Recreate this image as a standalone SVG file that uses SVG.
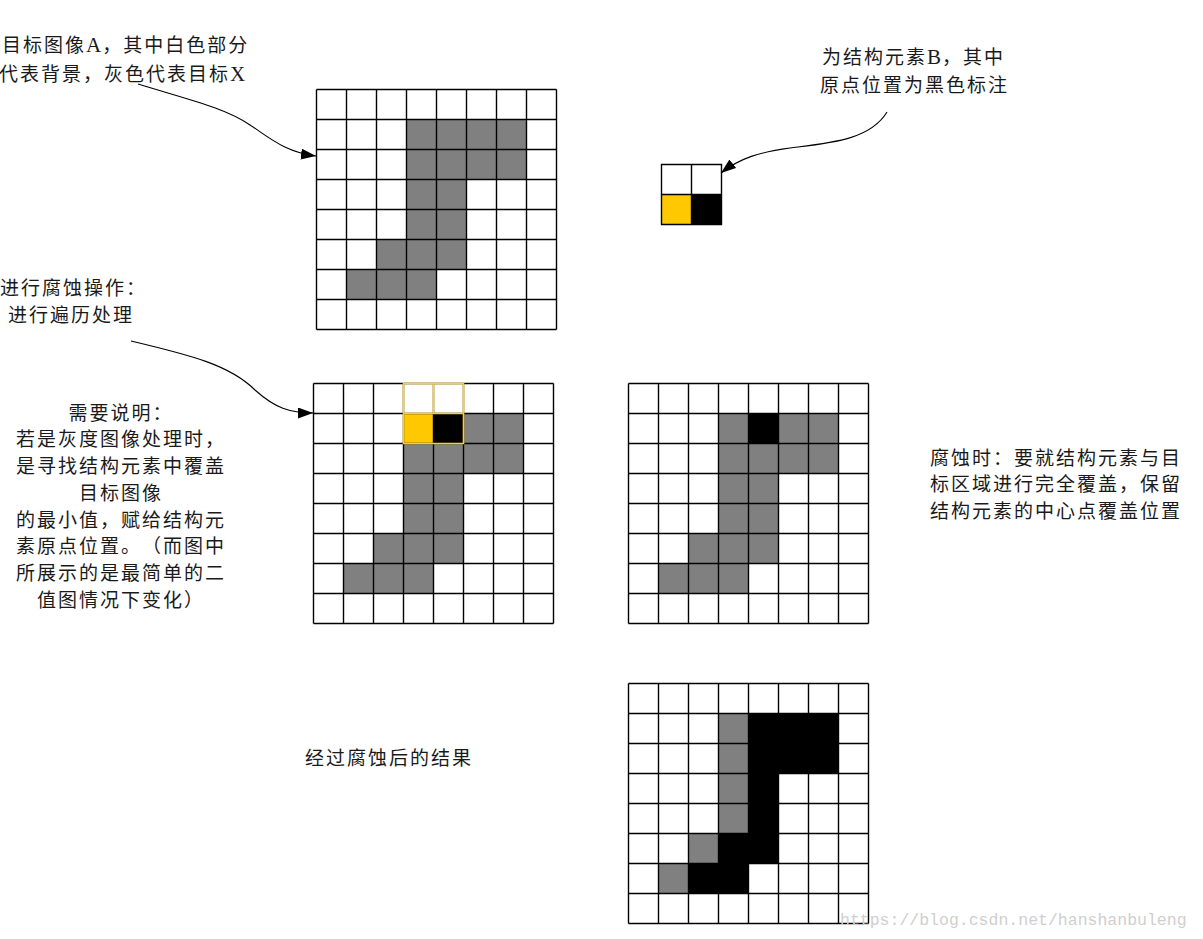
<svg xmlns="http://www.w3.org/2000/svg" xmlns:xlink="http://www.w3.org/1999/xlink" width="1203" height="939" viewBox="0 0 1203 939">
<style>
.t{font-family:"Noto Sans CJK SC","Liberation Serif",sans-serif;font-size:19px;letter-spacing:2px;fill:#1a1a1a;text-spacing-trim:space-all;font-feature-settings:"palt" 0,"halt" 0}
.l{font-family:"Liberation Serif",serif;font-size:21px;letter-spacing:1px}
.c{text-anchor:middle}
.gl{fill:none;stroke:#000;stroke-width:1.4}
.g{fill:#808080}
.k{fill:#000}
.y{fill:#FFC800}
.conn{fill:none;stroke:#000;stroke-width:1.1}
.wm{font-family:"Liberation Mono",monospace;font-size:16.5px;fill:#cfcfcf}
</style>
<defs>
<path id="gridlines" d="M0,0H240M0,30H240M0,60H240M0,90H240M0,120H240M0,150H240M0,180H240M0,210H240M0,240H240M0,0V240M30,0V240M60,0V240M90,0V240M120,0V240M150,0V240M180,0V240M210,0V240M240,0V240"/>
<g id="shape">
<rect x="90" y="30" width="120" height="60"/>
<rect x="90" y="90" width="60" height="60"/>
<rect x="60" y="150" width="90" height="30"/>
<rect x="30" y="180" width="90" height="30"/>
</g>
<marker id="ah" markerUnits="userSpaceOnUse" markerWidth="16" markerHeight="12" refX="15" refY="5.5" orient="auto">
<path d="M0,0L15,5.5L0,11z" fill="#000"/>
</marker>
</defs>
<rect width="1203" height="939" fill="#fff"/>

<g id="gridA" transform="translate(316.5,89.5)">
<rect width="240" height="240" fill="#fff"/>
<use xlink:href="#shape" class="g"/>
<use xlink:href="#gridlines" class="gl"/>
</g>

<g id="structB" transform="translate(661.5,164.5)">
<rect width="60" height="60" fill="#fff"/>
<rect x="0" y="30" width="30" height="30" class="y"/>
<rect x="30" y="30" width="30" height="30" class="k"/>
<path d="M0,0H60V60H0ZM30,0V60M0,30H60" class="gl"/>
</g>

<g id="gridStep" transform="translate(313.5,383.5)">
<rect width="240" height="240" fill="#fff"/>
<use xlink:href="#shape" class="g"/>
<rect x="90" y="30" width="30" height="30" class="y"/>
<rect x="120" y="30" width="30" height="30" class="k"/>
<use xlink:href="#gridlines" class="gl"/>
<path d="M90,0H150V60H90ZM120,0V30M90,30H150" fill="none" stroke="#FFD21A" stroke-width="1.6"/>
</g>

<g id="gridMark" transform="translate(628.5,383.5)">
<rect width="240" height="240" fill="#fff"/>
<use xlink:href="#shape" class="g"/>
<rect x="120" y="30" width="30" height="30" class="k"/>
<use xlink:href="#gridlines" class="gl"/>
</g>

<g id="gridResult" transform="translate(628.5,683.5)">
<rect width="240" height="240" fill="#fff"/>
<rect x="90" y="30" width="30" height="120" class="g"/>
<rect x="60" y="150" width="30" height="30" class="g"/>
<rect x="30" y="180" width="30" height="30" class="g"/>
<rect x="120" y="30" width="90" height="60" class="k"/>
<rect x="120" y="90" width="30" height="60" class="k"/>
<rect x="90" y="150" width="60" height="30" class="k"/>
<rect x="60" y="180" width="60" height="30" class="k"/>
<use xlink:href="#gridlines" class="gl"/>
</g>

<g id="connectors">
<path class="conn" d="M138,84C190,100 225,108 250,125C270,138 285,152 316,156" marker-end="url(#ah)"/>
<path class="conn" d="M131,341C190,355 230,365 255,390C275,408 290,413 313,413" marker-end="url(#ah)"/>
<path class="conn" d="M887,112C870,140 830,143 790,148C760,152 740,158 721,173" marker-end="url(#ah)"/>
</g>

<g id="labelA">
<text class="t" x="2" y="52">目标图像<tspan class="l">A</tspan>，其中白色部分</text>
<text class="t" x="-1" y="81">代表背景，灰色代表目标<tspan class="l">X</tspan></text>
</g>
<g id="labelB">
<text class="t" x="822" y="64">为结构元素<tspan class="l">B</tspan>，其中</text>
<text class="t" x="820" y="92">原点位置为黑色标注</text>
</g>
<g id="labelOp">
<text class="t" x="0" y="295">进行腐蚀操作：</text>
<text class="t" x="8" y="322">进行遍历处理</text>
</g>
<g id="labelNote">
<text class="t c" x="121" y="420">需要说明：</text>
<text class="t c" x="121" y="446">若是灰度图像处理时，</text>
<text class="t c" x="121" y="473">是寻找结构元素中覆盖</text>
<text class="t c" x="121" y="500">目标图像</text>
<text class="t c" x="121" y="527">的最小值，赋给结构元</text>
<text class="t c" x="121" y="553">素原点位置。（而图中</text>
<text class="t c" x="121" y="580">所展示的是最简单的二</text>
<text class="t c" x="121" y="607">值图情况下变化）</text>
</g>
<g id="labelErode">
<text class="t" x="930" y="465">腐蚀时：要就结构元素与目</text>
<text class="t" x="930" y="491">标区域进行完全覆盖，保留</text>
<text class="t" x="930" y="518">结构元素的中心点覆盖位置</text>
</g>
<g id="labelResult">
<text class="t" x="305" y="765">经过腐蚀后的结果</text>
</g>
<text class="wm" x="840" y="925">https://blog.csdn.net/hanshanbuleng</text>
</svg>
